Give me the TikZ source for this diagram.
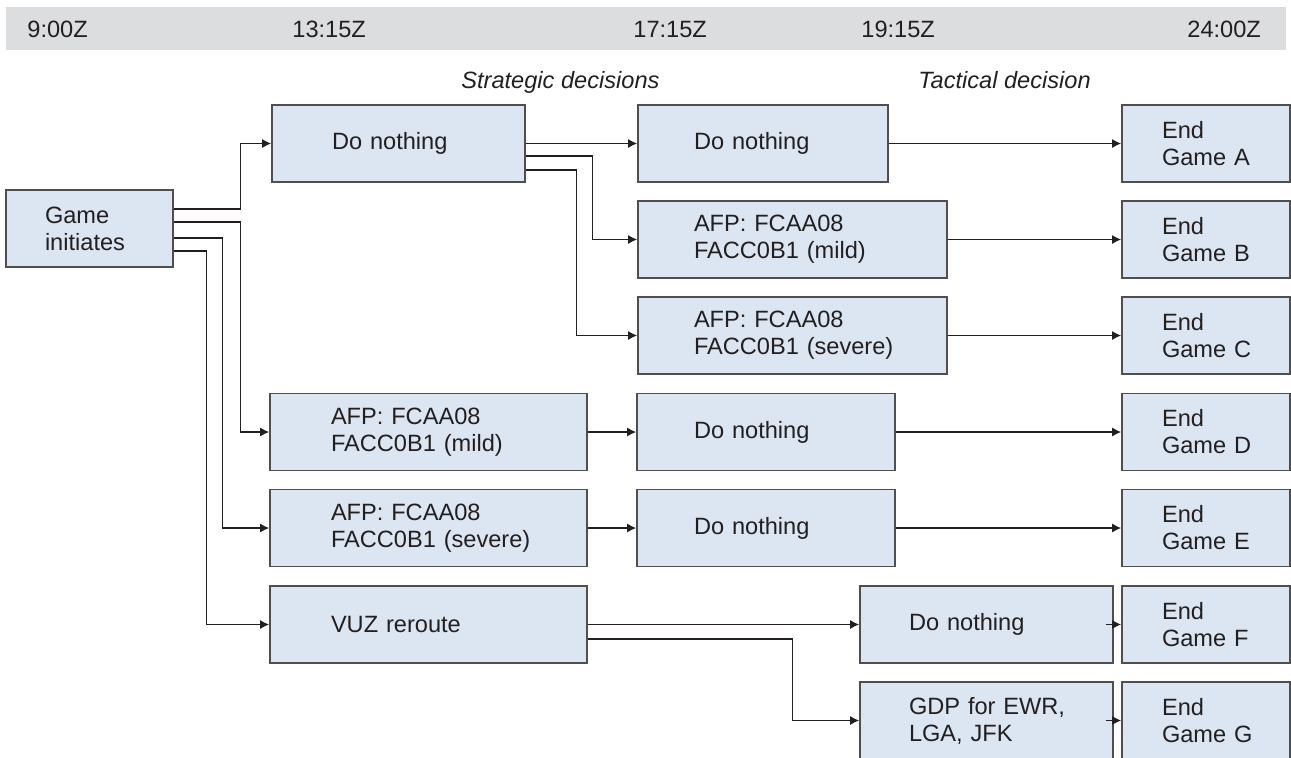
\documentclass[tikz,border=0pt]{standalone}
\usepackage{fontspec}
\setmainfont{Liberation Sans}
\usetikzlibrary{arrows.meta}

\definecolor{barfill}{HTML}{DCDDDF}
\definecolor{boxfill}{HTML}{DCE6F2}
\definecolor{boxline}{HTML}{4F4F4F}
\definecolor{ink}{HTML}{231F20}

\tikzset{
  box/.style 2 args={draw=boxline, line width=0.8pt, fill=boxfill, minimum height=38.5pt,
    inner xsep=0pt, text width=#1, align=left, execute at begin node={\leftskip=#2}},
  link/.style={draw=ink, line width=0.7pt, -{Latex[length=4.5pt,width=4.5pt]}},
  clock/.style={anchor=base west, inner sep=0pt},
  phase/.style={anchor=base west, inner sep=0pt, font=\fontsize{11.8}{13.5}\selectfont\itshape}
}

\begin{document}
\begin{tikzpicture}[x=0.5pt, y=-0.5pt, text=ink, font=\fontsize{11.8}{13.5}\selectfont]
    \useasboundingbox (0,0) rectangle (1291,757);
    % time bar
    \fill[barfill] (6,7) rectangle (1286,50);
    \node[clock] (t0900) at (27,37) {9:00Z};
    \node[clock] (t1315) at (292,37) {13:15Z};
    \node[clock] (t1715) at (633,37) {17:15Z};
    \node[clock] (t1915) at (861,37) {19:15Z};
    \node[clock] (t2400) at (1187,37) {24:00Z};
    \node[phase] (strat) at (461,88) {Strategic decisions};
    \node[phase] (tact) at (918,88) {Tactical decision};

    \node[box={83.5pt}{19.5pt}] (game) at (89.5,228.5) {Game\\initiates};
    \node[box={126.5pt}{30pt}] (dn1) at (398.5,143.5) {Do nothing};
    \node[box={158.5pt}{30.5pt}] (mildB) at (428.5,432) {AFP: FCAA08\\FACC0B1 (mild)};
    \node[box={158.5pt}{30.5pt}] (severeB) at (428.5,528) {AFP: FCAA08\\FACC0B1 (severe)};
    \node[box={158.5pt}{30.5pt}] (vuz) at (428.5,624.5) {VUZ reroute};

    \node[box={125pt}{28pt}] (dn2) at (763,143.5) {Do nothing};
    \node[box={154.5pt}{28pt}] (mildA) at (792.5,239.5) {AFP: FCAA08\\FACC0B1 (mild)};
    \node[box={154.5pt}{28pt}] (severeA) at (792.5,335.5) {AFP: FCAA08\\FACC0B1 (severe)};
    \node[box={129pt}{28.5pt}] (dn3) at (766,432) {Do nothing};
    \node[box={129pt}{28.5pt}] (dn4) at (766,528) {Do nothing};
    \node[box={126.5pt}{24.5pt}] (dn5) at (986.5,624.5) {Do nothing};
    \node[box={126.5pt}{24.5pt}] (gdp) at (986.5,720.5) {GDP for EWR,\\LGA, JFK};

    \node[box={84pt}{20pt}] (endA) at (1206,143.5) {End\\Game A};
    \node[box={84pt}{20pt}] (endB) at (1206,239.5) {End\\Game B};
    \node[box={84pt}{20pt}] (endC) at (1206,335.5) {End\\Game C};
    \node[box={84pt}{20pt}] (endD) at (1206,432) {End\\Game D};
    \node[box={84pt}{20pt}] (endE) at (1206,528) {End\\Game E};
    \node[box={84pt}{20pt}] (endF) at (1206,624.5) {End\\Game F};
    \node[box={84pt}{20pt}] (endG) at (1206,720.5) {End\\Game G};

    % from the start
    \draw[link] ([yshift=9.75pt]game.east) -| ([xshift=-15.5pt]dn1.west) -- (dn1.west);
    \draw[link] ([yshift=3.25pt]game.east) -| ([xshift=-14.5pt]mildB.west) -- (mildB.west);
    \draw[link] ([yshift=-4.75pt]game.east) -| ([xshift=-23.5pt]severeB.west) -- (severeB.west);
    \draw[link] ([yshift=-11.25pt]game.east) -| ([xshift=-31.5pt]vuz.west) -- (vuz.west);

    \draw[link] (dn1.east) -- (dn2.west);
    \draw[link] ([yshift=-6.25pt]dn1.east) -| ([xshift=-22.5pt]mildA.west) -- (mildA.west);
    \draw[link] ([yshift=-13.25pt]dn1.east) -| ([xshift=-30.5pt]severeA.west) -- (severeA.west);
    \draw[link] (mildB.east) -- (dn3.west);
    \draw[link] (severeB.east) -- (dn4.west);
    \draw[link] (vuz.east) -- (dn5.west);
    \draw[link] ([yshift=-7.25pt]vuz.east) -| ([xshift=-33.5pt]gdp.west) -- (gdp.west);

    % to the ends
    \draw[link] (dn2.east) -- (endA.west);
    \draw[link] (mildA.east) -- (endB.west);
    \draw[link] (severeA.east) -- (endC.west);
    \draw[link] (dn3.east) -- (endD.west);
    \draw[link] (dn4.east) -- (endE.west);
    \draw[link] ([xshift=-4pt]dn5.east) -- (endF.west);
    \draw[link] ([xshift=-4pt]gdp.east) -- (endG.west);
  \end{tikzpicture}
\end{document}
